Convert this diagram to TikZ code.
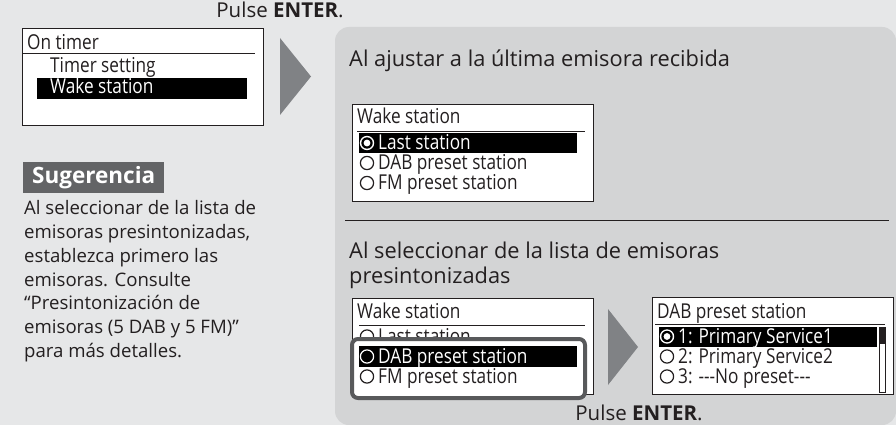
\documentclass[tikz,border=0pt]{standalone}
\usepackage{fontspec}
\setmainfont{Open Sans}
\newfontfamily\lcdf[FakeStretch=0.84]{Open Sans}
\definecolor{bg}{HTML}{E6E7E8}
\definecolor{pan}{HTML}{D3D4D5}
\definecolor{tri}{HTML}{808285}
\definecolor{tipc}{HTML}{636466}
\definecolor{hl}{HTML}{58595B}
\definecolor{txt}{HTML}{231F20}
\newcommand\radoff[2]{\draw[txt,line width=1.2pt] (#1,#2) circle (6.6pt);}
\newcommand\radon[2]{\fill[white] (#1,#2) circle (7.2pt);\fill[black] (#1,#2) circle (5.7pt);\fill[white] (#1,#2) circle (3.4pt);}
\begin{document}
\begin{tikzpicture}[x=1pt,y=-1pt,
  screen/.style={draw=txt,fill=white,line width=1pt,anchor=north west,inner sep=0,minimum width=241pt},
  lcd/.style={font=\lcdf\fontsize{20.5}{22}\selectfont,anchor=base west,inner sep=0,text=txt},
  lcdw/.style={lcd,text=white},
  body/.style={font=\fontsize{18.6}{24}\selectfont,anchor=base west,inner sep=0,text=txt},
  head/.style={font=\fontsize{21.8}{24}\selectfont,anchor=base west,inner sep=0,text=txt},
  pulse/.style={font=\fontsize{20.5}{22}\selectfont,anchor=base,inner sep=0,text=txt},
  bar/.style={fill=black},
  tri/.style={fill=tri}]
\useasboundingbox (0,0) rectangle (896,425);
\clip (0,0) rectangle (896,425);
\fill[bg] (0,0) rectangle (896,425);
\fill[pan,rounded corners=14pt] (335,27) rectangle (896,425);

% top instruction
\node[pulse] (p1) at (280,18) {Pulse \textbf{ENTER}.};

% screen 1
\node[screen,minimum height=97pt] (s1) at (22,28) {};
\node[lcd] (s1t) at (27,50) {On timer};
\draw[txt,line width=1pt] (22,54) -- (255,54);
\node[lcd] (s1a) at (50,73) {Timer setting};
\fill[bar] (37,78) rectangle (247,99);
\node[lcdw] (s1b) at (50,94) {Wake station};

% arrow 1
\fill[tri] (280,38) -- (311,76.5) -- (280,115) -- cycle;

% tip
\node[fill=tipc,text=white,font=\bfseries\fontsize{22.5}{24}\selectfont,minimum width=141pt,minimum height=31pt,inner sep=0,anchor=north west] (tip) at (23,162) {Sugerencia};
\node[body] (l1) at (24,214) {Al seleccionar de la lista de};
\node[body] (l2) at (24,238) {emisoras presintonizadas,};
\node[body] (l3) at (24,262) {establezca primero las};
\node[body] (l4) at (24,286) {emisoras. Consulte};
\node[body] (l5) at (24,309) {“Presintonización de};
\node[body] (l6) at (24,333) {emisoras (5 DAB y 5 FM)”};
\node[body] (l7) at (24,357) {para más detalles.};

% right panel, case 1
\node[head] (h1) at (349,67) {Al ajustar a la última emisora recibida};
\node[screen,minimum height=97pt] (s2) at (352,104) {};
\node[lcd] (s2t) at (357,124) {Wake station};
\draw[txt,line width=1pt] (357,131) -- (585,131);
\fill[bar] (359,133) rectangle (577,153);
\radon{367}{143}
\node[lcdw] (s2a) at (378,149.5) {Last station};
\radoff{367}{163}
\node[lcd] (s2b) at (378,169.5) {DAB preset station};
\radoff{367}{183}
\node[lcd] (s2c) at (378,189.5) {FM preset station};

\draw[txt,line width=1pt] (345,220) -- (889,220);

% case 2
\node[head] (h2) at (349,258) {Al seleccionar de la lista de emisoras};
\node[head] (h3) at (349,283) {presintonizadas};
\node[screen,minimum height=96pt] (s3) at (352,298) {};
\node[lcd] (s3t) at (357,318) {Wake station};
\draw[txt,line width=1pt] (359,325) -- (585,325);
\radoff{367}{336.5}
\node[lcd] (s3a) at (378,343) {Last station};
\draw[hl,fill=white,line width=4pt,rounded corners=6pt] (352,339) rectangle (585,398);
\fill[bar] (359,346) rectangle (577,367);
\draw[white,line width=1.2pt] (367,356.5) circle (6.6pt);
\node[lcdw] (s3b) at (378,363.5) {DAB preset station};
\radoff{367}{376.5}
\node[lcd] (s3c) at (378,383.5) {FM preset station};

% arrow 2
\fill[tri] (608,309) -- (638,347) -- (608,385) -- cycle;

% screen 4
\node[screen,minimum height=97pt] (s4) at (652,297) {};
\node[lcd] (s4t) at (657,318) {DAB preset station};
\draw[txt,line width=1pt] (655,324) -- (885,324);
\fill[bar] (659,327) rectangle (877,347);
\radon{667}{336.5}
\node[lcdw] (s4a) at (678,343.5) {1: Primary Service1};
\radoff{667}{356.5}
\node[lcd] (s4b) at (678,363.5) {2: Primary Service2};
\radoff{667}{376.5}
\node[lcd] (s4c) at (678,383.5) {3: ---No preset---};
\draw[txt,line width=0.8pt] (879.5,327.5) rectangle (885,392);
\fill[txt] (879.5,327.5) rectangle (885,344);

\node[pulse] (p2) at (639,420) {Pulse \textbf{ENTER}.};
\end{tikzpicture}
\end{document}
